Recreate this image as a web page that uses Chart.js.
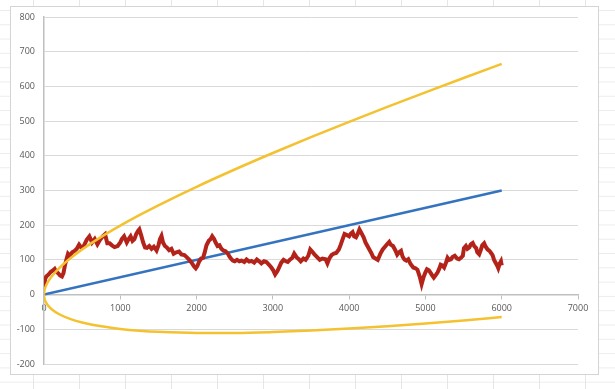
<!DOCTYPE html>
<html>
<head>
<meta charset="utf-8">
<script src="https://cdn.jsdelivr.net/npm/chart.js@4.4.3/dist/chart.umd.min.js"></script>
<style>
  html, body { margin: 0; padding: 0; }
  body {
    width: 615px; height: 389px; position: relative; overflow: hidden;
    background-color: #fff;
    background-image:
      linear-gradient(to right, #e6e6e6 1px, transparent 1px),
      linear-gradient(to bottom, #ececec 1px, transparent 1px);
    background-size: 46px 14.3px;
    background-position: 33px 0, 0 10px;
  }
  #box {
    position: absolute; left: 10px; top: 6px; width: 587px; height: 367px;
    background: #fff; border: 1px solid #d4d4d4;
  }
  #chart { position: absolute; left: 0; top: 0; }
</style>
</head>
<body>
<div id="box"></div>
<canvas id="chart" width="615" height="389"></canvas>
<script>
// random walk (red)
const walkX = [0, 15, 30, 60, 90, 120, 140, 160, 185, 210, 235, 255, 275, 295, 315, 340, 370, 400, 430, 460,
  490, 520, 560, 595, 630, 665, 700, 735, 770, 800, 830, 860, 890, 925, 965, 1000, 1020, 1050, 1085, 1110,
  1135, 1160, 1185, 1210, 1235, 1250, 1275, 1300, 1325, 1350, 1380, 1410, 1440, 1475, 1500, 1520, 1540, 1560, 1585, 1610,
  1640, 1670, 1700, 1735, 1770, 1800, 1840, 1870, 1905, 1935, 1965, 1990, 2010, 2035, 2060, 2085, 2105, 2130, 2160, 2185,
  2205, 2230, 2250, 2275, 2300, 2325, 2350, 2380, 2410, 2430, 2450, 2475, 2500, 2530, 2560, 2590, 2625, 2655, 2690, 2720,
  2755, 2790, 2820, 2850, 2885, 2915, 2950, 2980, 3005, 3030, 3060, 3085, 3110, 3140, 3170, 3195, 3220, 3255, 3280, 3310,
  3340, 3365, 3400, 3430, 3465, 3490, 3515, 3545, 3580, 3615, 3650, 3690, 3715, 3740, 3770, 3800, 3830, 3865, 3890, 3915,
  3940, 3970, 4000, 4020, 4045, 4065, 4090, 4112, 4135, 4160, 4190, 4215, 4240, 4265, 4290, 4315, 4345, 4375, 4410, 4440,
  4470, 4500, 4525, 4545, 4575, 4605, 4630, 4655, 4680, 4700, 4725, 4750, 4775, 4805, 4840, 4870, 4895, 4925, 4950, 4975,
  5000, 5020, 5045, 5070, 5090, 5110, 5135, 5160, 5180, 5200, 5220, 5245, 5270, 5290, 5310, 5335, 5355, 5385, 5415, 5440,
  5465, 5490, 5505, 5530, 5550, 5575, 5595, 5620, 5640, 5665, 5680, 5705, 5725, 5745, 5770, 5790, 5815, 5840, 5860, 5880,
  5900, 5920, 5940, 5955, 5975, 5990, 6000];
const walkY = [20, 45, 52, 58, 66, 70, 74, 66, 62, 55, 52, 62, 85, 102, 118, 112, 122, 126, 132, 144,
  135, 140, 158, 168, 150, 160, 145, 158, 168, 174, 148, 148, 142, 137, 140, 150, 160, 168, 150, 160,
  168, 155, 160, 175, 184, 188, 170, 150, 136, 135, 140, 132, 138, 127, 142, 160, 169, 150, 140, 136,
  128, 132, 118, 122, 124, 116, 114, 108, 100, 92, 82, 76, 82, 96, 104, 106, 120, 142, 155, 160,
  168, 160, 150, 140, 142, 132, 127, 125, 118, 110, 104, 98, 96, 100, 96, 98, 94, 101, 95, 97,
  92, 101, 96, 90, 96, 94, 86, 78, 70, 58, 68, 80, 92, 100, 96, 94, 100, 106, 118, 108,
  102, 96, 104, 100, 112, 130, 124, 116, 108, 100, 104, 102, 90, 104, 114, 118, 120, 130, 144, 160,
  175, 172, 168, 175, 180, 168, 165, 175, 188, 178, 165, 150, 140, 130, 120, 108, 104, 100, 118, 130,
  138, 146, 152, 144, 140, 128, 115, 122, 126, 110, 101, 98, 102, 88, 78, 76, 72, 52, 30, 50,
  64, 73, 70, 62, 55, 49, 56, 64, 74, 86, 84, 78, 92, 106, 100, 102, 108, 112, 104, 102,
  106, 112, 134, 140, 132, 136, 145, 149, 140, 134, 122, 116, 128, 142, 148, 138, 130, 126, 120, 114,
  100, 92, 84, 76, 90, 96, 84, 82];

// mean line (blue)
const meanX = [0, 6000];
const meanY = [0, 300];

// envelope (yellow)
const bandX = [0, 5, 20, 50, 100, 200, 350, 500, 750, 1000, 1250, 1500, 2000, 2500, 3000, 3500, 4000, 4500, 5000, 5500, 6000];
const upperY = [0, 10.8, 22.1, 35.8, 52.1, 76.6, 105.6, 130.3, 166.5, 198.9, 229.0, 257.4, 310.6, 360.5, 408.0, 453.6, 497.9, 541.0, 583.0, 624.3, 664.8];
const lowerY = [0, -10.3, -20.1, -30.8, -42.1, -56.6, -70.6, -80.3, -91.5, -98.9, -104.0, -107.4, -110.6, -110.5, -108.0, -103.6, -97.9, -91.0, -83.0, -74.3, -64.8];

const xTicks = [0, 1000, 2000, 3000, 4000, 5000, 6000, 7000];
const yTicks = [-200, -100, 0, 100, 200, 300, 400, 500, 600, 700, 800];

function pts(xs, ys) {
    return xs.map((x, i) => ({ x: x, y: ys[i] }));
}

const yellow = '#F4C230';
const lineStyle = { showLine: true, pointRadius: 0, fill: false, tension: 0 };
const tickFont = { family: 'Open Sans', size: 9 };

new Chart(document.getElementById('chart').getContext('2d'), {
    type: 'scatter',
    data: {
        datasets: [
            { ...lineStyle, data: pts(bandX, upperY), borderColor: yellow, borderWidth: 2.5, cubicInterpolationMode: 'monotone', tension: 0.4 },
            { ...lineStyle, data: pts(bandX, lowerY), borderColor: yellow, borderWidth: 2.5, cubicInterpolationMode: 'monotone', tension: 0.4 },
            { ...lineStyle, data: pts(walkX, walkY), borderColor: '#B3231A', borderWidth: 4 },
            { ...lineStyle, data: pts(meanX, meanY), borderColor: '#3373BF', borderWidth: 2.5 }
        ]
    },
    options: {
        responsive: false,
        animation: false,
        layout: { padding: { left: 10, top: 17, right: 37, bottom: 25 } },
        plugins: { legend: { display: false }, tooltip: { enabled: false } },
        scales: {
            x: {
                type: 'linear',
                position: { y: 0 },
                min: 0, max: 7000,
                afterBuildTicks: (scale) => { scale.ticks = xTicks.map(v => ({ value: v })); },
                grid: { drawOnChartArea: false, drawTicks: true, tickLength: 4, color: '#bfbfbf' },
                border: { display: true, color: '#bfbfbf', width: 1.5 },
                ticks: { color: '#595959', font: tickFont, padding: 4, maxRotation: 0, callback: (v) => String(v) }
            },
            y: {
                type: 'linear',
                min: -200, max: 800,
                afterBuildTicks: (scale) => { scale.ticks = yTicks.map(v => ({ value: v })); },
                afterFit: (scale) => { scale.width = 34; },
                grid: { color: '#d9d9d9', lineWidth: 1, drawTicks: false },
                border: { display: true, color: '#bfbfbf', width: 1.5 },
                ticks: { color: '#595959', font: tickFont, padding: 9, callback: (v) => String(v) }
            }
        }
    }
});
</script>
</body>
</html>
